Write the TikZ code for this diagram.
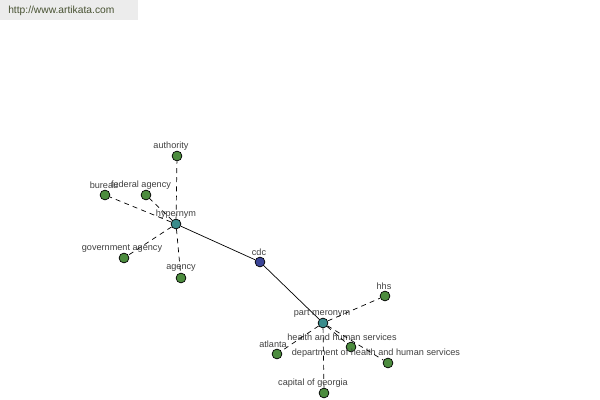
\documentclass[tikz,border=0pt]{standalone}
\usepackage{fontspec}
\setmainfont{Liberation Sans}
\usetikzlibrary{positioning}
\definecolor{choja}{RGB}{76,140,62}
\definecolor{crel}{RGB}{58,140,140}
\definecolor{craiz}{RGB}{58,68,150}
\definecolor{ctexto}{RGB}{64,64,64}
\definecolor{cbanda}{RGB}{236,236,236}
\definecolor{curl}{RGB}{72,82,50}

\begin{document}
\begin{tikzpicture}[x=0.025cm, y=-0.025cm,
    hoja/.style={circle, draw=black, line width=0.5pt, fill=choja, minimum size=7pt, inner sep=0pt},
    rel/.style={hoja, fill=crel},
    raiz/.style={hoja, fill=craiz},
    lbl/.style={text=ctexto, font=\fontsize{6.5}{7}\selectfont, inner sep=0pt},
    enlace/.style={line width=0.5pt},
    guion/.style={line width=0.5pt, dash pattern=on 3.5pt off 3pt}]

  \useasboundingbox (0,0) rectangle (600,400);

  % banda superior
  \fill[cbanda] (0,0) rectangle (138,20);
  \node[anchor=west, text=curl, font=\fontsize{7.3}{9}\selectfont, inner sep=0pt] (url) at (8,11) {http://www.artikata.com};

  % nodos
  \node[raiz] (cdc) at (260,262) {};
  \node[rel] (hyp) at (176,224) {};
  \node[rel] (mer) at (323,323) {};
  \node[hoja] (authority) at (177,156) {};
  \node[hoja] (bureau) at (105,195) {};
  \node[hoja] (federal) at (146,195) {};
  \node[hoja] (govagency) at (124,258) {};
  \node[hoja] (agency) at (181,278) {};
  \node[hoja] (hhs) at (385,296) {};
  \node[hoja] (hhserv) at (351,347) {};
  \node[hoja] (dept) at (388,363) {};
  \node[hoja] (atlanta) at (277,354) {};
  \node[hoja] (capital) at (324,393) {};

  % etiquetas
  \node[lbl] (cdc-l) at (259,252) {cdc};
  \node[lbl] (hyp-l) at (176,214) {hypernym};
  \node[lbl] (mer-l) at (322,313) {part meronym};
  \node[lbl] (authority-l) at (171,146) {authority};
  \node[lbl] (bureau-l) at (104,185) {bureau};
  \node[lbl] (federal-l) at (141,185) {federal agency};
  \node[lbl] (govagency-l) at (122,248) {government agency};
  \node[lbl] (agency-l) at (181,268) {agency};
  \node[lbl] (hhs-l) at (384,286) {hhs};
  \node[lbl] (hhserv-l) at (342,337) {health and human services};
  \node[lbl] (dept-l) at (376,353) {department of health and human services};
  \node[lbl] (atlanta-l) at (273,344) {atlanta};
  \node[lbl] (capital-l) at (313,383) {capital of georgia};

  % enlaces
  \draw[enlace] (cdc) -- (hyp);
  \draw[enlace] (cdc) -- (mer);
  \foreach \h in {authority, bureau, federal, govagency, agency}
    \draw[guion] (hyp) -- (\h);
  \foreach \h in {hhs, hhserv, dept, atlanta, capital}
    \draw[guion] (mer) -- (\h);
\end{tikzpicture}
\end{document}
